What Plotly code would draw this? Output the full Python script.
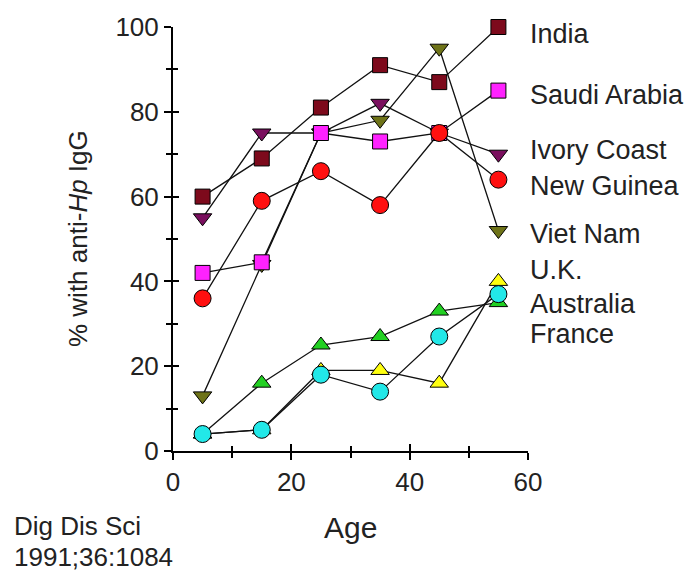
import plotly.graph_objects as go

ages = [5, 15, 25, 35, 45, 55]

india = [60, 69, 81, 91, 87, 100]
saudi = [42, 44.5, 75, 73, 75, 85]
ivory = [55, 75, 75, 82, 75, 70]
guinea = [36, 59, 66, 58, 75, 64]
vietnam = [13, 44, 75, 78, 95, 52]
uk = [4, 5, 19, 19, 16, 40]
france = [4, 16, 25, 27, 33, 35]
australia = [4, 5, 18, 14, 27, 37]

label_texts = ["India", "Saudi Arabia", "Ivory Coast", "New Guinea", "Viet Nam",
               "U.K.", "Australia", "France"]
label_y = [98.4, 84, 70.9, 62.4, 51.2, 42.7, 34.7, 27.7]

x_ticks = [0, 20, 40, 60]
y_ticks = [0, 20, 40, 60, 80, 100]

FONT = "Arial, Liberation Sans, sans-serif"

series = [
    ("Viet Nam", vietnam, "triangle-down", "#6e7318", 16),
    ("Ivory Coast", ivory, "triangle-down", "#7a0f5e", 16),
    ("Saudi Arabia", saudi, "square", "#ff22ff", 15),
    ("New Guinea", guinea, "circle", "#ff1010", 17),
    ("India", india, "square", "#7d0a1c", 15),
    ("U.K.", uk, "triangle-up", "#ffff10", 16),
    ("France", france, "triangle-up", "#22d022", 16),
    ("Australia", australia, "circle", "#22e8e8", 17),
]

fig = go.Figure()
for name, vals, sym, col, sz in series:
    fig.add_trace(go.Scatter(
        x=ages, y=vals, name=name, mode="lines+markers",
        line=dict(color="#111", width=1.3),
        marker=dict(symbol=sym, color=col, size=sz,
                    line=dict(color="black", width=1)),
        cliponaxis=False, showlegend=False,
    ))

# overlay axes to make ticks cross the axis lines
fig.add_trace(go.Scatter(x=[], y=[], xaxis="x2", yaxis="y2", showlegend=False))

for t, yv in zip(label_texts, label_y):
    fig.add_annotation(x=55, y=yv, xref="x", yref="y", text=t, showarrow=False,
                       xanchor="left", yanchor="middle", xshift=30,
                       font=dict(family=FONT, size=27, color="#222"))

fig.add_annotation(xref="paper", yref="y", x=0, y=50, xshift=-95,
                   text="% with anti-<i>Hp</i> IgG", textangle=-90, showarrow=False,
                   xanchor="center", yanchor="middle",
                   font=dict(family=FONT, size=26, color="#222"))
fig.add_annotation(xref="x", yref="paper", x=30, y=0, yshift=-76,
                   text="Age", showarrow=False, xanchor="center", yanchor="middle",
                   font=dict(family=FONT, size=30, color="#222"))
fig.add_annotation(xref="paper", yref="paper", x=0, y=0, xshift=-161, yshift=-75,
                   text="Dig Dis Sci", showarrow=False, xanchor="left", yanchor="middle",
                   font=dict(family=FONT, size=26, color="#222"))
fig.add_annotation(xref="paper", yref="paper", x=0, y=0, xshift=-161, yshift=-106,
                   text="1991;36:1084", showarrow=False, xanchor="left", yanchor="middle",
                   font=dict(family=FONT, size=26, color="#222"))

axis_common = dict(showgrid=False, zeroline=False, showline=True, linecolor="black",
                   linewidth=2, ticks="outside", ticklen=7, tickwidth=2, tickcolor="black",
                   tickfont=dict(family=FONT, size=26, color="#222"))

fig.update_layout(
    width=696, height=573,
    margin=dict(l=173, r=168, t=25, b=122),
    paper_bgcolor="white", plot_bgcolor="white",
    xaxis=dict(range=[0, 60], tickvals=x_ticks, ticktext=[str(v) for v in x_ticks],
               minor=dict(ticks="outside", ticklen=5, tickwidth=2, tickcolor="black", dtick=10, tick0=0),
               **axis_common),
    yaxis=dict(range=[0, 100], tickvals=y_ticks, ticktext=[str(v) for v in y_ticks],
               minor=dict(ticks="outside", ticklen=5, tickwidth=2, tickcolor="black", dtick=10, tick0=0),
               **axis_common),
    xaxis2=dict(range=[0, 60], overlaying="x", anchor="y2", side="bottom", showgrid=False,
                zeroline=False, showline=False, showticklabels=False, ticks="inside",
                ticklen=7, tickwidth=2, tickcolor="black", tickvals=x_ticks,
                minor=dict(ticks="inside", ticklen=5, tickwidth=2, tickcolor="black", dtick=10, tick0=0)),
    yaxis2=dict(range=[0, 100], overlaying="y", anchor="x2", side="left", showgrid=False,
                zeroline=False, showline=False, showticklabels=False, ticks="inside",
                ticklen=6, tickwidth=2, tickcolor="black", tickvals=y_ticks,
                minor=dict(ticks="inside", ticklen=5, tickwidth=2, tickcolor="black", dtick=10, tick0=0)),
)

fig.write_html("out.html", config={"displayModeBar": False},
               post_script="document.body.style.margin='0px';document.body.style.overflow='hidden';")
